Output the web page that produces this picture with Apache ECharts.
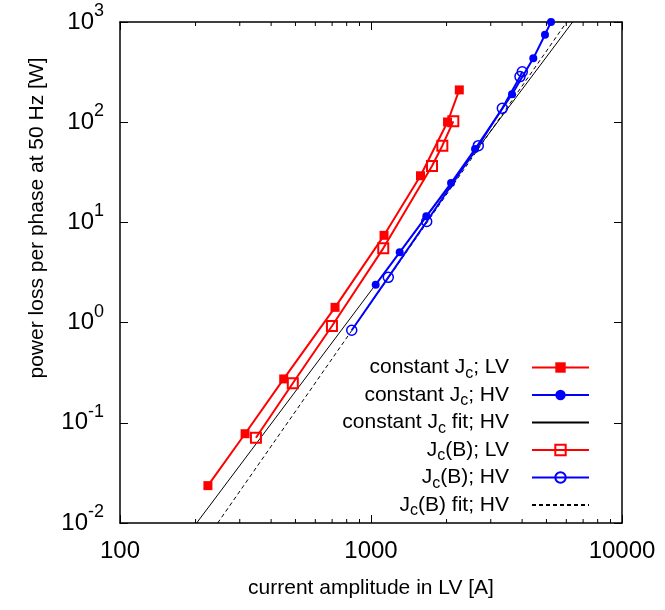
<!DOCTYPE html>
<html>
<head>
<meta charset="utf-8">
<script src="https://cdn.jsdelivr.net/npm/echarts@6/dist/echarts.min.js"></script>
<style>
  html, body { margin: 0; padding: 0; background: #fff; }
  #chart { width: 665px; height: 610px; }
</style>
</head>
<body>
<div id="chart"></div>
<script>
// constant Jc, LV winding (filled red squares)
const constLvX = [224, 315, 449, 719, 1127, 1575, 2018, 2248];
const constLvY = [0.0236, 0.0778, 0.274, 1.42, 7.43, 29.2, 100.5, 210];
// constant Jc, HV winding (filled blue circles)
const constHvX = [1044, 1301, 1661, 2084, 2597, 3646, 4432, 4934, 5214];
const constHvY = [2.39, 5.03, 11.5, 24.7, 54.0, 190, 434, 747, 1000];
// Jc(B), LV (open red squares)
const jbLvX = [348, 488, 699, 1119, 1750, 1924, 2128];
const jbLvY = [0.071, 0.248, 0.925, 5.51, 36.5, 58.3, 102];
// Jc(B), HV (open blue circles)
const jbHvX = [838, 1172, 1667, 2676, 3336, 3922, 4006];
const jbHvY = [0.838, 2.83, 10.2, 58.3, 137.6, 285, 319];
// fit lines, end points read at the frame
const fitConstX = [202, 6360];
const fitConstY = [0.01, 1000];
const fitJbX = [245, 6020];
const fitJbY = [0.01, 1000];
// minor ticks on the current axis
const minorTicksX = [200, 300, 400, 500, 600, 700, 800, 900, 2000, 3000, 4000, 5000, 6000, 7000, 8000, 9000];

const seriesNames = ['constant Jc; LV', 'constant Jc; HV', 'constant Jc fit; HV', 'Jc(B); LV', 'Jc(B); HV', 'Jc(B) fit; HV'];
const legendRich = {
  'constant Jc; LV': '{n|constant J}{s|c}{n|; LV}',
  'constant Jc; HV': '{n|constant J}{s|c}{n|; HV}',
  'constant Jc fit; HV': '{n|constant J}{s|c}{n| fit; HV}',
  'Jc(B); LV': '{n|J}{s|c}{n|(B); LV}',
  'Jc(B); HV': '{n|J}{s|c}{n|(B); HV}',
  'Jc(B) fit; HV': '{n|J}{s|c}{n|(B) fit; HV}'
};

function zip(xs, ys) {
  return xs.map((x, i) => [x, ys[i]]);
}

const font = 'Liberation Sans, Arial, sans-serif';
const chart = echarts.init(document.getElementById('chart'));

const frameAxis = (pos, show) => ({
  position: pos,
  type: 'log',
  logBase: 10,
  axisLine: { show: true, onZero: false, lineStyle: { color: '#000', width: 1.5 } },
  axisTick: { show: true, inside: true, length: 8, lineStyle: { color: '#000', width: 1 } },
  axisLabel: { show: show },
  splitLine: { show: false },
  minorTick: { show: false }
});

const option = {
  animation: false,
  textStyle: { fontFamily: font },
  grid: { left: 120, right: 43, top: 22, bottom: 87, containLabel: false },
  xAxis: [
    Object.assign(frameAxis('bottom', true), {
      min: 100, max: 10000,
      axisLabel: {
        show: true, fontSize: 24, color: '#000', margin: 16, fontFamily: font,
        formatter: function (v) { return String(Math.round(v)); }
      },
      name: 'current amplitude in LV [A]',
      nameLocation: 'middle',
      nameGap: 55,
      nameTextStyle: { fontSize: 21, color: '#000', fontFamily: font }
    }),
    Object.assign(frameAxis('top', false), { min: 100, max: 10000 })
  ],
  yAxis: [
    Object.assign(frameAxis('left', true), {
      min: 0.01, max: 1000,
      axisLabel: {
        show: true, margin: 16, color: '#000',
        formatter: function (v) {
          return '{b|10}{p|' + Math.round(Math.log10(v)) + '}';
        },
        rich: {
          b: { fontSize: 24, fontFamily: font, color: '#000' },
          p: { fontSize: 18, fontFamily: font, color: '#000', padding: [0, 0, 22, 0] }
        }
      }
    }),
    Object.assign(frameAxis('right', false), { min: 0.01, max: 1000 })
  ],
  graphic: [{
    type: 'text',
    x: 37, y: 218,
    rotation: Math.PI / 2,
    style: {
      text: 'power loss per phase at 50 Hz [W]',
      font: '21px ' + font,
      fill: '#000',
      align: 'center',
      verticalAlign: 'middle'
    }
  }],
  legend: {
    data: seriesNames,
    orient: 'vertical',
    align: 'right',
    right: 70,
    top: 352,
    itemWidth: 57,
    itemHeight: 13,
    itemGap: 3,
    formatter: function (name) { return legendRich[name]; },
    textStyle: {
      padding: [0, 18, 0, 0],
      rich: {
        n: { fontSize: 21, fontFamily: font, color: '#000' },
        s: { fontSize: 16, fontFamily: font, color: '#000', padding: [12, 0, 0, 0] }
      }
    }
  },
  series: [
    {
      name: seriesNames[2], type: 'line', data: zip(fitConstX, fitConstY),
      showSymbol: false, symbol: 'none',
      lineStyle: { color: '#000', width: 1 }, itemStyle: { color: 'rgba(0,0,0,0)' }, z: 2
    },
    {
      name: seriesNames[5], type: 'line', data: zip(fitJbX, fitJbY),
      showSymbol: false, symbol: 'none',
      lineStyle: { color: '#000', width: 1, type: [4, 3] }, itemStyle: { color: 'rgba(0,0,0,0)' }, z: 2
    },
    {
      name: seriesNames[0], type: 'line', data: zip(constLvX, constLvY),
      symbol: 'rect', symbolSize: 9,
      lineStyle: { color: '#ff0000', width: 2 }, itemStyle: { color: '#ff0000' }, z: 3
    },
    {
      name: seriesNames[3], type: 'line', data: zip(jbLvX, jbLvY),
      symbol: 'rect', symbolSize: 10,
      lineStyle: { color: '#ff0000', width: 2 },
      itemStyle: { color: 'rgba(255,255,255,0)', borderColor: '#ff0000', borderWidth: 2 }, z: 3
    },
    {
      name: seriesNames[1], type: 'line', data: zip(constHvX, constHvY),
      symbol: 'circle', symbolSize: 8,
      lineStyle: { color: '#0000ff', width: 2 }, itemStyle: { color: '#0000ff' }, z: 4
    },
    {
      name: seriesNames[4], type: 'line', data: zip(jbHvX, jbHvY),
      symbol: 'circle', symbolSize: 10,
      lineStyle: { color: '#0000ff', width: 2 },
      itemStyle: { color: 'rgba(255,255,255,0)', borderColor: '#0000ff', borderWidth: 1.5 }, z: 4
    },
    {
      name: 'minor ticks', type: 'custom', silent: true, z: 5,
      data: minorTicksX.map(v => [v]),
      renderItem: function (params, api) {
        const v = api.value(0);
        const lo = api.coord([v, 0.01]);
        const hi = api.coord([v, 1000]);
        const st = { stroke: '#000', lineWidth: 1 };
        return {
          type: 'group',
          children: [
            { type: 'line', shape: { x1: lo[0], y1: lo[1], x2: lo[0], y2: lo[1] - 4 }, style: st },
            { type: 'line', shape: { x1: hi[0], y1: hi[1], x2: hi[0], y2: hi[1] + 4 }, style: st }
          ]
        };
      }
    }
  ]
};

chart.setOption(option);
</script>
</body>
</html>
